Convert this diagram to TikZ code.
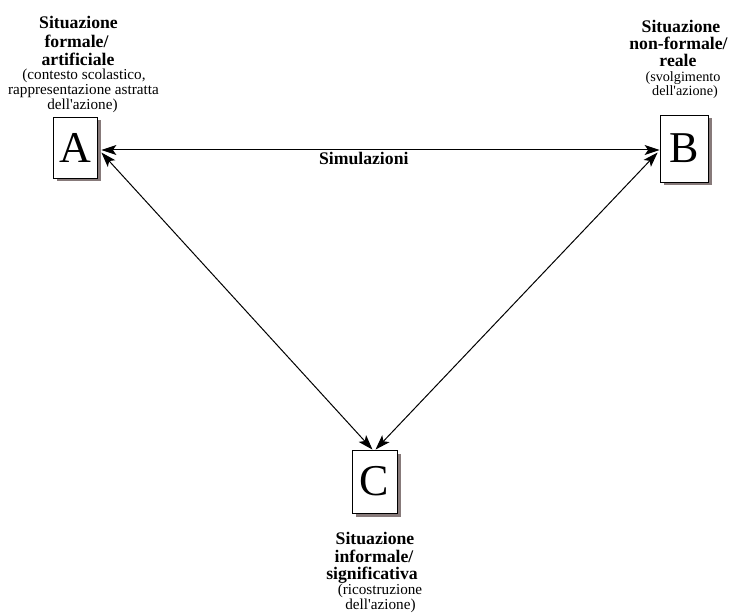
\documentclass[tikz,border=0pt]{standalone}
\usepackage{fontspec}
\setmainfont{Liberation Serif}
\usetikzlibrary{arrows.meta,shadows}
\definecolor{shadowcol}{RGB}{135,122,122}
\newcommand{\apos}{\textquotesingle}
\tikzset{
  boxnode/.style={draw, fill=white, line width=0.8pt, inner sep=0pt,
    font=\fontsize{44}{44}\selectfont,
    drop shadow={shadow xshift=3.5pt, shadow yshift=-3.5pt, fill=shadowcol, opacity=1}},
  bl/.style={font=\fontsize{17.7}{19}\selectfont\bfseries, anchor=base, inner sep=0pt},
  nl/.style={font=\fontsize{15.2}{15}\selectfont, anchor=base, inner sep=0pt},
  nlb/.style={font=\fontsize{14.2}{15}\selectfont, anchor=base, inner sep=0pt},
  conn/.style={line width=1pt, {Stealth[length=15pt,width=10pt,inset=3.5pt]}-{Stealth[length=15pt,width=10pt,inset=3.5pt]}}
}
\begin{document}
\begin{tikzpicture}[x=1pt,y=-1pt]
\useasboundingbox (0,0) rectangle (729,615);
% boxes
\node[boxnode, minimum width=44pt, minimum height=61pt] (A) at (75,147.5) {A};
\node[boxnode, minimum width=48pt, minimum height=67pt] (B) at (684,148.5) {B};
\node[boxnode, minimum width=45pt, minimum height=63pt] (C) at (374.5,481.5) {C};
% connectors
\draw[conn] ([xshift=4pt,yshift=-2.5pt]A.east) -- ([yshift=-1.5pt]B.west) node[pos=0.47, bl, anchor=base, yshift=-15pt] (sim) {Simulazioni};
\draw[conn] ([xshift=4pt,yshift=-5pt]A.east) -- ([xshift=-2pt]C.north);
\draw[conn] ([xshift=-2pt,yshift=-4pt]B.west) -- ([xshift=1pt]C.north);
% labels A
\node[bl] (a1) at (78.5,29) {Situazione};
\node[bl] (a2) at (76.5,48) {formale/};
\node[bl] (a3) at (78,65.5) {artificiale};
\node[nl] (a4) at (84,80) {(contesto scolastico,};
\node[nl] (a5) at (83.5,95) {rappresentazione astratta};
\node[nl] (a6) at (82.5,110) {dell\apos azione)};
% labels B
\node[bl] (b1) at (681,32.5) {Situazione};
\node[bl] (b2) at (678.5,50) {non-formale/};
\node[bl] (b3) at (678,66.5) {reale};
\node[nlb] (b4) at (683,81.5) {(svolgimento};
\node[nlb] (b5) at (685,96) {dell\apos azione)};
% labels C
\node[bl] (c1) at (375,544) {Situazione};
\node[bl] (c2) at (374,562) {informale/};
\node[bl] (c3) at (372,579) {significativa};
\node[nl] (c4) at (380,594.5) {(ricostruzione};
\node[nl] (c5) at (380.5,609) {dell\apos azione)};
\end{tikzpicture}
\end{document}
